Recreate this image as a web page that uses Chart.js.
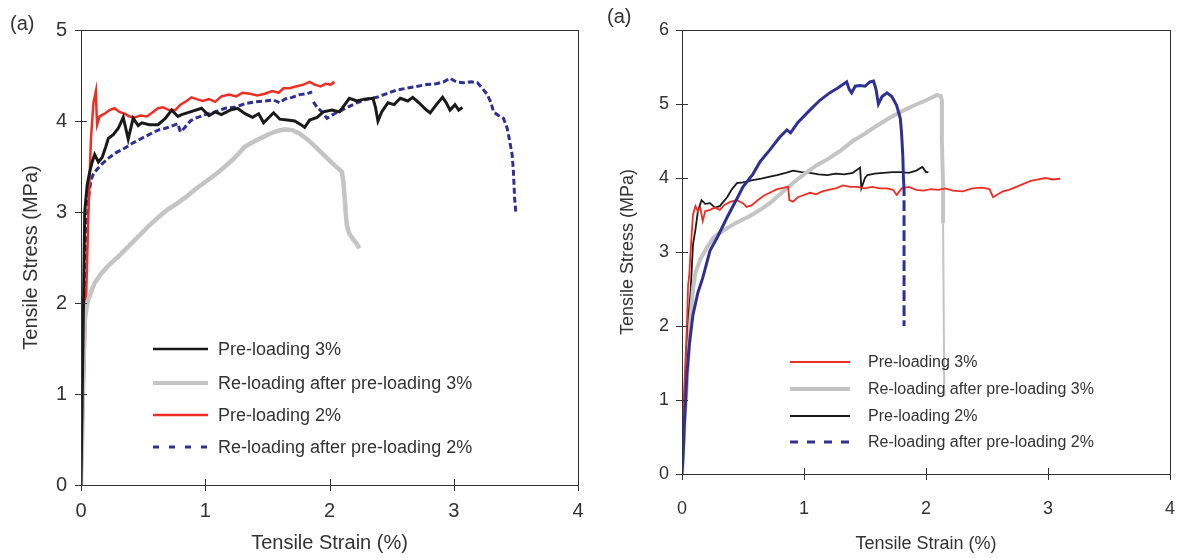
<!DOCTYPE html>
<html>
<head>
<meta charset="utf-8">
<script src="https://cdn.jsdelivr.net/npm/chart.js@4.4.0/dist/chart.umd.min.js"></script>
<style>
  body { margin: 0; background: #fff; }
  #left { position: absolute; left: 0; top: 0; }
  #right { position: absolute; left: 590px; top: 0; }
</style>
</head>
<body>
<canvas id="left" width="590" height="558"></canvas>
<canvas id="right" width="587" height="558"></canvas>
<script>
// [strain %, stress MPa]
const leftPre3 = [[0,0],[0.01,1.0],[0.02,2.0],[0.03,3.0],[0.05,3.3],[0.07,3.44],[0.09,3.55],[0.11,3.63],[0.14,3.55],[0.17,3.6],[0.2,3.72],[0.22,3.81],[0.26,3.85],[0.3,3.92],[0.34,4.04],[0.36,3.92],[0.38,3.8],[0.42,4.03],[0.46,3.95],[0.49,3.98],[0.55,3.96],[0.62,3.96],[0.68,4.03],[0.73,4.12],[0.78,4.05],[0.81,4.07],[0.88,4.1],[0.97,4.14],[1.03,4.06],[1.08,4.1],[1.13,4.07],[1.2,4.12],[1.26,4.14],[1.32,4.08],[1.38,4.04],[1.43,4.08],[1.47,3.98],[1.55,4.09],[1.6,4.02],[1.66,4.01],[1.72,4.0],[1.77,3.96],[1.8,3.93],[1.84,4.01],[1.9,4.04],[1.95,4.1],[2.02,4.12],[2.08,4.1],[2.16,4.25],[2.22,4.22],[2.28,4.24],[2.35,4.25],[2.37,4.15],[2.39,4.0],[2.42,4.1],[2.47,4.2],[2.52,4.18],[2.57,4.25],[2.63,4.22],[2.67,4.26],[2.72,4.2],[2.78,4.12],[2.81,4.09],[2.86,4.18],[2.91,4.26],[2.94,4.2],[2.97,4.12],[3.01,4.18],[3.04,4.12],[3.07,4.15]];
const leftRe3 = [[0,0],[0.01,0.6],[0.02,1.3],[0.03,1.8],[0.05,2.0],[0.08,2.12],[0.11,2.22],[0.16,2.32],[0.22,2.41],[0.3,2.51],[0.38,2.62],[0.46,2.73],[0.54,2.84],[0.62,2.94],[0.7,3.03],[0.78,3.1],[0.84,3.16],[0.92,3.25],[1.0,3.33],[1.08,3.41],[1.16,3.5],[1.24,3.6],[1.32,3.72],[1.4,3.78],[1.46,3.82],[1.52,3.86],[1.58,3.89],[1.64,3.91],[1.7,3.9],[1.76,3.86],[1.82,3.8],[1.9,3.7],[1.96,3.62],[2.02,3.54],[2.06,3.49],[2.1,3.44],[2.11,3.35],[2.12,3.2],[2.13,3.0],[2.14,2.85],[2.16,2.76],[2.19,2.7],[2.22,2.65],[2.24,2.6]];
const leftPre2 = [[0,0],[0.02,1.0],[0.04,2.0],[0.06,3.0],[0.08,3.8],[0.1,4.2],[0.12,4.33],[0.125,4.1],[0.13,3.96],[0.15,4.05],[0.19,4.08],[0.23,4.12],[0.27,4.14],[0.31,4.1],[0.35,4.08],[0.39,4.05],[0.43,4.04],[0.48,4.06],[0.53,4.05],[0.58,4.1],[0.62,4.14],[0.66,4.15],[0.71,4.12],[0.76,4.12],[0.8,4.18],[0.85,4.22],[0.89,4.26],[0.93,4.24],[0.98,4.22],[1.03,4.24],[1.08,4.21],[1.13,4.27],[1.19,4.29],[1.25,4.27],[1.3,4.31],[1.36,4.3],[1.42,4.28],[1.48,4.3],[1.54,4.33],[1.59,4.31],[1.63,4.36],[1.68,4.36],[1.73,4.38],[1.79,4.4],[1.84,4.43],[1.88,4.4],[1.93,4.38],[1.97,4.41],[2.01,4.4],[2.04,4.43]];
const leftRe2 = [[0,0],[0.01,0.5],[0.02,1.1],[0.03,2.0],[0.04,2.6],[0.05,2.9],[0.06,3.15],[0.08,3.35],[0.1,3.42],[0.13,3.47],[0.17,3.53],[0.22,3.59],[0.28,3.65],[0.35,3.7],[0.42,3.76],[0.49,3.81],[0.56,3.86],[0.62,3.9],[0.68,3.92],[0.74,3.95],[0.78,3.97],[0.8,3.88],[0.83,3.92],[0.88,4.0],[0.92,4.03],[1.0,4.07],[1.08,4.1],[1.16,4.14],[1.24,4.15],[1.32,4.19],[1.4,4.21],[1.48,4.22],[1.55,4.23],[1.6,4.2],[1.64,4.24],[1.7,4.26],[1.76,4.29],[1.82,4.3],[1.86,4.32],[1.865,null],[1.87,4.21],[1.9,4.15],[1.94,4.1],[1.98,4.03],[2.04,4.08],[2.1,4.12],[2.16,4.16],[2.22,4.2],[2.3,4.24],[2.38,4.26],[2.46,4.3],[2.54,4.34],[2.62,4.36],[2.7,4.38],[2.78,4.4],[2.86,4.41],[2.92,4.43],[2.97,4.47],[3.02,4.43],[3.08,4.42],[3.14,4.43],[3.19,4.42],[3.23,4.36],[3.27,4.29],[3.3,4.2],[3.32,4.1],[3.36,4.06],[3.4,4.03],[3.43,3.92],[3.45,3.78],[3.47,3.63],[3.48,3.45],[3.485,3.3],[3.49,3.15],[3.5,2.99]];

const rightPre3 = [[0,0],[0.01,0.8],[0.02,1.23],[0.03,1.6],[0.04,2.0],[0.05,2.55],[0.06,2.7],[0.07,3.0],[0.08,3.25],[0.09,3.5],[0.11,3.62],[0.13,3.55],[0.15,3.6],[0.17,3.42],[0.19,3.55],[0.23,3.57],[0.27,3.6],[0.31,3.57],[0.35,3.64],[0.4,3.68],[0.45,3.7],[0.5,3.66],[0.53,3.61],[0.57,3.63],[0.62,3.7],[0.67,3.76],[0.72,3.8],[0.78,3.85],[0.84,3.87],[0.87,3.88],[0.88,3.7],[0.91,3.68],[0.95,3.74],[1.0,3.77],[1.05,3.8],[1.1,3.78],[1.15,3.82],[1.2,3.84],[1.26,3.86],[1.32,3.9],[1.38,3.88],[1.44,3.88],[1.5,3.86],[1.56,3.88],[1.62,3.86],[1.68,3.86],[1.73,3.84],[1.76,3.77],[1.8,3.86],[1.86,3.88],[1.92,3.84],[1.98,3.83],[2.04,3.85],[2.1,3.84],[2.16,3.86],[2.22,3.83],[2.3,3.82],[2.38,3.86],[2.46,3.87],[2.52,3.85],[2.55,3.74],[2.58,3.77],[2.63,3.82],[2.68,3.84],[2.74,3.88],[2.8,3.92],[2.86,3.96],[2.92,3.98],[2.98,4.0],[3.04,3.98],[3.1,3.99]];
const rightRe3 = [[0,0],[0.01,0.3],[0.02,0.7],[0.04,1.23],[0.06,1.8],[0.07,2.1],[0.09,2.5],[0.11,2.72],[0.15,2.9],[0.2,3.05],[0.26,3.2],[0.32,3.27],[0.37,3.32],[0.45,3.4],[0.55,3.48],[0.64,3.57],[0.72,3.66],[0.79,3.76],[0.86,3.86],[0.93,3.96],[1.0,4.05],[1.1,4.17],[1.19,4.25],[1.3,4.37],[1.4,4.5],[1.5,4.6],[1.6,4.71],[1.71,4.82],[1.8,4.9],[1.9,4.98],[2.0,5.05],[2.05,5.09],[2.09,5.12],[2.12,5.11],[2.13,5.05],[2.13,4.5],[2.14,3.9],[2.14,3.39],[2.15,1.05]];
const rightPre2 = [[0,0],[0.02,1.0],[0.04,1.77],[0.05,2.1],[0.07,2.45],[0.09,3.1],[0.11,3.3],[0.13,3.55],[0.16,3.7],[0.19,3.65],[0.23,3.66],[0.27,3.6],[0.31,3.62],[0.34,3.68],[0.37,3.74],[0.41,3.85],[0.45,3.93],[0.5,3.94],[0.58,3.97],[0.65,3.99],[0.72,4.02],[0.78,4.04],[0.85,4.07],[0.91,4.1],[0.98,4.08],[1.05,4.07],[1.12,4.05],[1.19,4.04],[1.26,4.06],[1.33,4.05],[1.4,4.07],[1.46,4.14],[1.47,3.86],[1.5,4.0],[1.52,4.04],[1.58,4.06],[1.65,4.07],[1.73,4.08],[1.8,4.08],[1.86,4.07],[1.92,4.1],[1.97,4.15],[2.0,4.08],[2.02,4.08]];
const rightRe2 = [[0,0],[0.01,0.3],[0.02,0.7],[0.03,1.0],[0.04,1.35],[0.06,1.75],[0.09,2.15],[0.13,2.45],[0.17,2.65],[0.23,3.02],[0.29,3.2],[0.37,3.47],[0.45,3.72],[0.5,3.88],[0.58,4.05],[0.64,4.22],[0.72,4.38],[0.8,4.55],[0.86,4.65],[0.89,4.61],[0.95,4.75],[1.05,4.92],[1.13,5.05],[1.21,5.15],[1.28,5.22],[1.35,5.3],[1.37,5.2],[1.39,5.15],[1.42,5.24],[1.46,5.25],[1.5,5.24],[1.54,5.3],[1.57,5.31],[1.59,5.2],[1.61,5.0],[1.64,5.1],[1.68,5.15],[1.72,5.1],[1.76,4.98],[1.79,4.8],[1.8,4.6],[1.81,4.3],[1.815,4.0],[1.82,3.85],[1.82,2.0]];

const leftLabels = ['Pre-loading 3%', 'Re-loading after pre-loading 3%', 'Pre-loading 2%', 'Re-loading after pre-loading 2%'];
const rightLabels = ['Pre-loading 3%', 'Re-loading after pre-loading 3%', 'Pre-loading 2%', 'Re-loading after pre-loading 2%'];

const FONT = "'Liberation Sans', Arial, Helvetica, sans-serif";
const TEXT = '#333';
const RED = '#ee2e24';
const BLUE = '#2e3192';
const GRAY = '#c4c4c4';
const BLACK = '#1a1a1a';

const toPoints = pairs => pairs.map(p => ({ x: p[0], y: p[1] }));

// frame, cross ticks, legend and panel tag
const panelPlugin = {
  id: 'panel',
  afterDraw(chart, args, o) {
    const { ctx, chartArea: a, scales } = chart;
    ctx.save();
    ctx.strokeStyle = '#333';
    ctx.lineWidth = 1;
    ctx.strokeRect(Math.round(a.left) + 0.5, Math.round(a.top) + 0.5, a.right - a.left, a.bottom - a.top);

    ctx.beginPath();
    scales.x.ticks.forEach(t => {
      const px = Math.round(scales.x.getPixelForValue(t.value)) + 0.5;
      ctx.moveTo(px, a.bottom - 6);
      ctx.lineTo(px, a.bottom + 6);
    });
    scales.y.ticks.forEach(t => {
      const py = Math.round(scales.y.getPixelForValue(t.value)) + 0.5;
      ctx.moveTo(a.left - 6, py);
      ctx.lineTo(a.left + 6, py);
    });
    ctx.stroke();

    ctx.font = o.legendSize + 'px ' + FONT;
    ctx.textBaseline = 'middle';
    ctx.textAlign = 'left';
    chart.data.datasets.forEach((ds, i) => {
      const y = o.legendY[i];
      ctx.strokeStyle = ds.borderColor;
      ctx.lineWidth = ds.legendWidth;
      ctx.setLineDash(ds.legendDash || []);
      ctx.beginPath();
      ctx.moveTo(o.legendX0, y);
      ctx.lineTo(o.legendX1, y);
      ctx.stroke();
      ctx.fillStyle = TEXT;
      ctx.fillText(ds.label, o.legendTextX, y + 1);
    });
    ctx.setLineDash([]);

    ctx.font = o.tagSize + 'px ' + FONT;
    ctx.fillText('(a)', o.tagX, o.tagY);
    ctx.restore();
  }
};

function makeAxes(o) {
  return {
    x: {
      type: 'linear', min: 0, max: 4,
      grid: { display: false, drawTicks: false },
      border: { display: false },
      ticks: { stepSize: 1, padding: o.xPad, color: TEXT, font: { family: FONT, size: o.tickSize } },
      title: { display: true, text: 'Tensile Strain (%)', color: TEXT,
               font: { family: FONT, size: o.titleSize, lineHeight: 1 }, padding: { top: 0, bottom: o.xTitlePad } },
      afterFit: s => { s.height = o.xH; s.paddingLeft = 0; s.paddingRight = 0; }
    },
    y: {
      type: 'linear', min: 0, max: o.yMax,
      grid: { display: false, drawTicks: false },
      border: { display: false },
      ticks: { stepSize: 1, padding: o.yPad, color: TEXT, font: { family: FONT, size: o.tickSize } },
      title: { display: true, text: 'Tensile Stress (MPa)', color: TEXT,
               font: { family: FONT, size: o.titleSize, lineHeight: 1 }, padding: { top: o.yTitlePad, bottom: 0 } },
      afterFit: s => { s.width = o.yW; s.paddingTop = 0; s.paddingBottom = 0; }
    }
  };
}

const common = { parsing: true, pointRadius: 0, tension: 0, fill: false, spanGaps: false };

new Chart(document.getElementById('left'), {
  type: 'line',
  data: {
    datasets: [
      { ...common, label: leftLabels[0], data: toPoints(leftPre3), borderColor: BLACK, borderWidth: 3, legendWidth: 2.5 },
      { ...common, label: leftLabels[1], data: toPoints(leftRe3), borderColor: GRAY, borderWidth: 4.5, legendWidth: 4 },
      { ...common, label: leftLabels[2], data: toPoints(leftPre2), borderColor: RED, borderWidth: 2.5, legendWidth: 2.5 },
      { ...common, label: leftLabels[3], data: toPoints(leftRe2), borderColor: BLUE, borderWidth: 3, borderDash: [6, 3], legendWidth: 3, legendDash: [6, 10] }
    ]
  },
  options: {
    responsive: false,
    animation: false,
    layout: { padding: { top: 30, right: 12, bottom: 0, left: 0 } },
    scales: makeAxes({ yMax: 5, tickSize: 20, titleSize: 20, xPad: 14, yPad: 14, xH: 73, yW: 81, xTitlePad: 5, yTitlePad: 21 }),
    plugins: {
      legend: { display: false },
      tooltip: { enabled: false },
      panel: { legendY: [349, 383, 415, 447], legendX0: 153, legendX1: 208, legendTextX: 218, legendSize: 18, tagSize: 20, tagX: 10, tagY: 24 }
    }
  },
  plugins: [panelPlugin]
});

new Chart(document.getElementById('right'), {
  type: 'line',
  data: {
    datasets: [
      { ...common, label: rightLabels[0], data: toPoints(rightPre3), borderColor: RED, borderWidth: 1.8, legendWidth: 2, order: 1 },
      { ...common, label: rightLabels[1], data: toPoints(rightRe3), borderColor: GRAY, borderWidth: 4, legendWidth: 4, order: 1,
        segment: { borderWidth: c => (c.p0.parsed.x > 2.1 && c.p0.parsed.y < 3.4 ? 2 : undefined) } },
      { ...common, label: rightLabels[2], data: toPoints(rightPre2), borderColor: BLACK, borderWidth: 1.8, legendWidth: 2, order: 1 },
      { ...common, label: rightLabels[3], data: toPoints(rightRe2), borderColor: BLUE, borderWidth: 3, legendWidth: 3, legendDash: [8, 9], order: 0,
        segment: { borderDash: c => (c.p0.parsed.x >= 1.82 && c.p0.parsed.y < 3.9 ? [7, 8] : undefined) } }
    ]
  },
  options: {
    responsive: false,
    animation: false,
    layout: { padding: { top: 30, right: 7, bottom: 0, left: 0 } },
    scales: makeAxes({ yMax: 6, tickSize: 18, titleSize: 18, xPad: 24, yPad: 13, xH: 84, yW: 92, xTitlePad: 5, yTitlePad: 29 }),
    plugins: {
      legend: { display: false },
      tooltip: { enabled: false },
      panel: { legendY: [362, 389, 416, 442], legendX0: 200, legendX1: 260, legendTextX: 278, legendSize: 16, tagSize: 20, tagX: 17, tagY: 17 }
    }
  },
  plugins: [panelPlugin]
});
</script>
</body>
</html>
